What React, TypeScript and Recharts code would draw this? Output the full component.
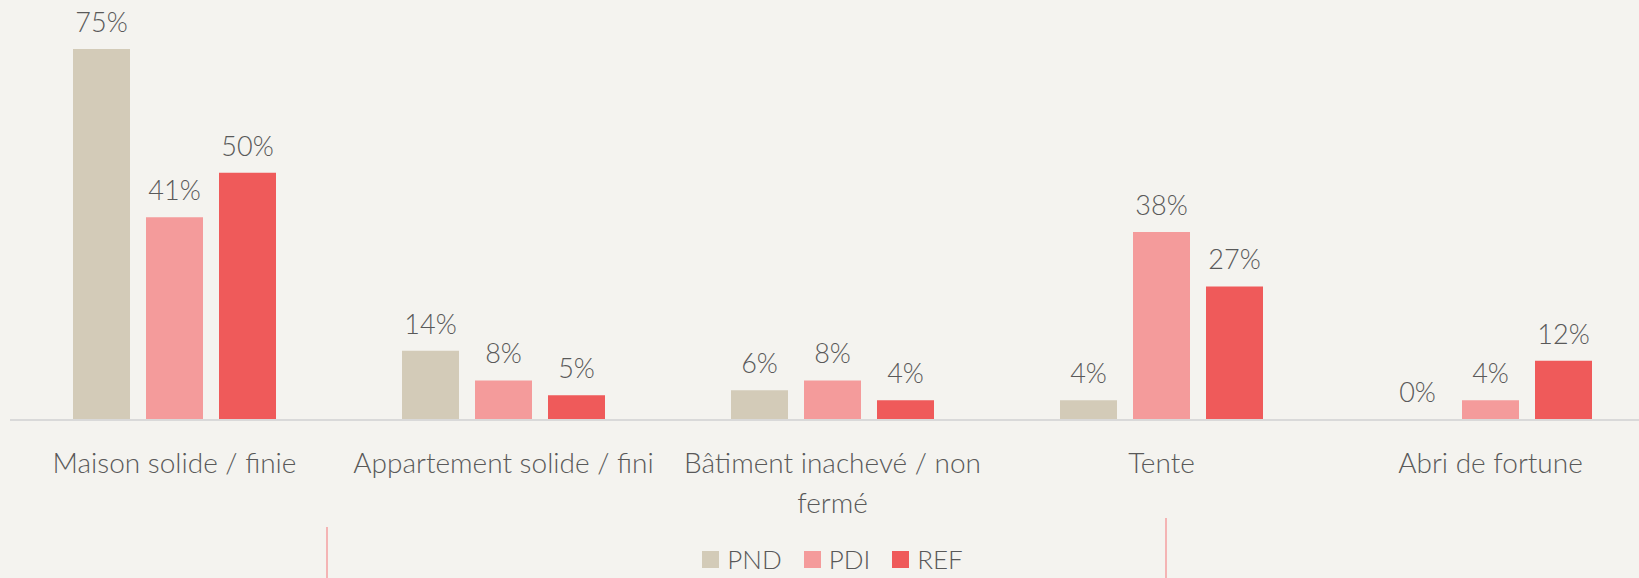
import React from "react";
import { BarChart, Bar, XAxis, YAxis, Legend, LabelList, Text } from "recharts";

const categories = [
  "Maison solide / finie",
  "Appartement solide / fini",
  "Bâtiment inachevé / non fermé",
  "Tente",
  "Abri de fortune",
];
const pnd = [75, 14, 6, 4, 0];
const pdi = [41, 8, 8, 38, 4];
const ref = [50, 5, 4, 27, 12];

const seriesNames = ["PND", "PDI", "REF"];
const colors = ["#d3cbb8", "#f49b9b", "#ef5a5a"];

const rows = categories.map((name, i) => ({
  name,
  PND: pnd[i],
  PDI: pdi[i],
  REF: ref[i],
}));

const font = "Lato, 'Open Sans', sans-serif";
const textColor = "#595959";

// simple word wrap by character count, the axis labels are short
function wrap(label: string, maxChars: number) {
  const lines: string[] = [];
  let cur = "";
  label.split(" ").forEach((w) => {
    const next = cur ? cur + " " + w : w;
    if (next.length > maxChars && cur) {
      lines.push(cur);
      cur = w;
    } else {
      cur = next;
    }
  });
  if (cur) lines.push(cur);
  return lines;
}

function CategoryTick(props: any) {
  const { x, y, payload } = props;
  const lines = wrap(String(payload.value), 26);
  return (
    <g>
      {lines.map((line, i) => (
        <Text
          key={i}
          x={x}
          y={y + 25 + i * 40}
          textAnchor="middle"
          verticalAnchor="start"
          fill={textColor}
          style={{ fontSize: 28, fontFamily: font, fontWeight: 300 }}
        >
          {line}
        </Text>
      ))}
    </g>
  );
}

function renderLegend(props: any) {
  const { payload } = props;
  const items = seriesNames.map((n) => payload.find((p: any) => p.value === n)).filter(Boolean);
  return (
    <div
      style={{
        height: 40,
        display: "flex",
        justifyContent: "center",
        alignItems: "flex-end",
        gap: 22,
        paddingBottom: 5,
        boxSizing: "border-box",
        fontFamily: font,
        fontWeight: 300,
        fontSize: 26,
        color: textColor,
        lineHeight: "28px",
      }}
    >
      {items.map((p: any) => (
        <div key={p.value} style={{ display: "flex", alignItems: "center", gap: 8 }}>
          <span style={{ width: 17, height: 17, background: p.color, display: "inline-block" }} />
          <span>{p.value}</span>
        </div>
      ))}
    </div>
  );
}

export default function App() {
  return (
    <div
      style={{
        position: "fixed",
        left: 0,
        top: 0,
        width: 1639,
        height: 578,
        overflow: "hidden",
        background: "#f4f3ef",
      }}
    >
      <BarChart
        width={1665}
        height={578}
        data={rows}
        margin={{ top: 49, right: 10, left: 10, bottom: 0 }}
        barGap={16}
      >
        <XAxis
          dataKey="name"
          axisLine={{ stroke: "#d9d9d9", strokeWidth: 2 }}
          tickLine={false}
          height={118}
          interval={0}
          tick={<CategoryTick />}
        />
        <YAxis hide domain={[0, 75]} />
        <Legend verticalAlign="bottom" height={40} content={renderLegend} />
        {seriesNames.map((s, i) => (
          <Bar
            key={s}
            dataKey={s}
            fill={colors[i]}
            barSize={57}
            minPointSize={1}
            isAnimationActive={false}
          >
            <LabelList
              dataKey={s}
              position="top"
              offset={17}
              formatter={(v: any) => `${v}%`}
              fill={textColor}
              style={{ fontSize: 27, fontFamily: font, fontWeight: 300 }}
            />
          </Bar>
        ))}
      </BarChart>
      <div style={{ position: "absolute", left: 326, top: 527, width: 2, height: 51, background: "#f4b4b4" }} />
      <div style={{ position: "absolute", left: 1165, top: 518, width: 2, height: 60, background: "#f4b4b4" }} />
    </div>
  );
}
